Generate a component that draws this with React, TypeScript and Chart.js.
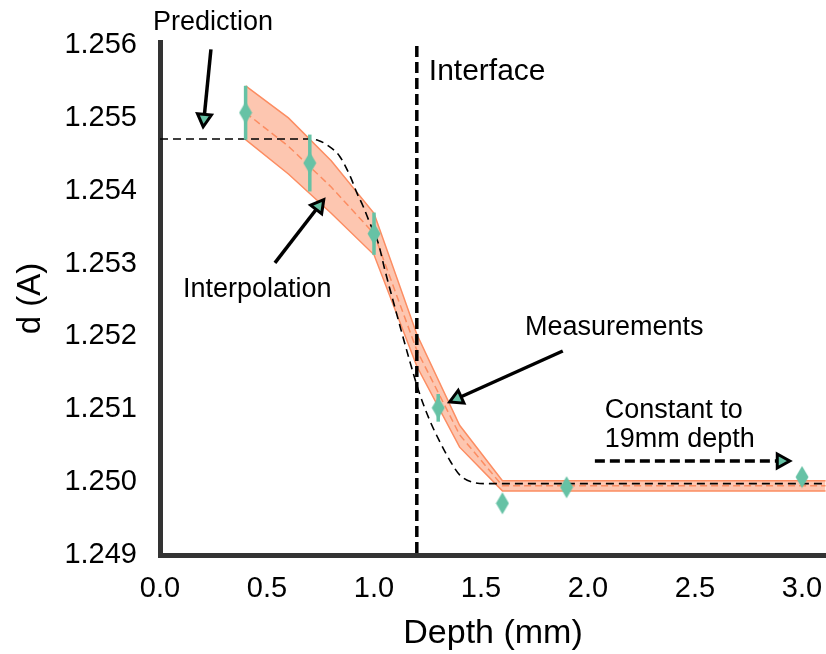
import React, { useEffect, useRef } from 'react';
import { Chart, registerables } from 'chart.js';

Chart.register(...registerables);

const FONT = '"Liberation Sans", Arial, Helvetica, sans-serif';
const TEAL = '#66c2a5';
const ORANGE = '#fc8d62';
const ORANGE_FILL = 'rgba(252,141,98,0.5)';
const SPINE = '#333333';

// Axis ticks
const xTicks = [0, 0.5, 1.0, 1.5, 2.0, 2.5, 3.0];
const yTicks = [1.249, 1.25, 1.251, 1.252, 1.253, 1.254, 1.255, 1.256];

// Measurements (diamonds with error bars)
const measX = [0.4, 0.7, 1.0, 1.3, 1.6, 1.9, 3.0];
const measY = [1.25507, 1.25438, 1.25341, 1.25102, 1.24971, 1.24993, 1.25007];
const measErr = [0.00037, 0.00039, 0.00029, 0.00019, 0.00004, 0.00004, 0.00004];

// Interpolation band
const bandX = [0.4, 0.6, 0.8, 1.0, 1.2, 1.4, 1.6, 3.11];
const bandMid = [1.25507, 1.25461, 1.25405, 1.25341, 1.25181, 1.25065, 1.24995, 1.24995];
const bandUpper = [1.25544, 1.255, 1.25441, 1.25369, 1.25203, 1.25078, 1.25002, 1.25002];
const bandLower = [1.2547, 1.25423, 1.25369, 1.25312, 1.25159, 1.25048, 1.24988, 1.24988];

// Prediction curve
const predX = [0, 0.7, 0.74, 0.78, 0.84, 0.89, 0.92, 0.95, 0.98, 1.02, 1.05, 1.09, 1.13, 1.17, 1.21, 1.26, 1.31, 1.36, 1.4, 1.46, 1.53, 3.11];
const predY = [1.25471, 1.25471, 1.25469, 1.25463, 1.25447, 1.25419, 1.25397, 1.25378, 1.25356, 1.25328, 1.25292, 1.25248, 1.25205, 1.25163, 1.25124, 1.25085, 1.25054, 1.25027, 1.2501, 1.25, 1.24998, 1.24998];

const interfaceX = 1.2;

// Annotations (data coordinates)
const textLabels = [
  { lines: ['Prediction'], x: -0.033, y: 1.25621, size: 27 },
  { lines: ['Interface'], x: 1.256, y: 1.25552, size: 30 },
  { lines: ['Interpolation'], x: 0.107, y: 1.25254, size: 27 },
  { lines: ['Measurements'], x: 1.705, y: 1.25202, size: 27 },
  { lines: ['Constant to', '19mm depth'], x: 2.078, y: 1.25088, size: 27 },
];
const arrows = [
  { x0: 0.238, y0: 1.25594, x1: 0.201, y1: 1.25485, dashed: false },
  { x0: 0.537, y0: 1.25301, x1: 0.771, y1: 1.2539, dashed: false },
  { x0: 1.882, y0: 1.2518, x1: 1.345, y1: 1.25109, dashed: false },
  { x0: 2.032, y0: 1.25029, x1: 2.952, y1: 1.25029, dashed: true },
];

function makeDiamond(): HTMLCanvasElement {
  const c = document.createElement('canvas');
  c.width = 14;
  c.height = 23;
  const g = c.getContext('2d')!;
  g.fillStyle = TEAL;
  g.beginPath();
  g.moveTo(7, 0.5);
  g.lineTo(13.5, 11.5);
  g.lineTo(7, 22.5);
  g.lineTo(0.5, 11.5);
  g.closePath();
  g.fill();
  return c;
}

const MEAS_INDEX = 0;

const overlayPlugin = {
  id: 'overlay',
  beforeDatasetDraw(chart: any, args: any) {
    if (args.index !== MEAS_INDEX) return;
    const { ctx, scales } = chart;
    const xs = scales.x;
    const ys = scales.y;
    ctx.save();
    ctx.strokeStyle = TEAL;
    ctx.lineWidth = 3.5;
    measX.forEach((mx, i) => {
      const px = xs.getPixelForValue(mx);
      ctx.beginPath();
      ctx.moveTo(px, ys.getPixelForValue(measY[i] + measErr[i]));
      ctx.lineTo(px, ys.getPixelForValue(measY[i] - measErr[i]));
      ctx.stroke();
    });
    ctx.restore();
  },
  afterDatasetsDraw(chart: any) {
    const { ctx, scales, chartArea } = chart;
    const xs = scales.x;
    const ys = scales.y;
    ctx.save();
    // Interface line
    const ix = xs.getPixelForValue(interfaceX);
    ctx.strokeStyle = '#000';
    ctx.lineWidth = 3.5;
    ctx.setLineDash([11, 5]);
    ctx.beginPath();
    ctx.moveTo(ix, chartArea.top + 4);
    ctx.lineTo(ix, chartArea.bottom);
    ctx.stroke();

    // Arrows
    arrows.forEach((a) => {
      const x0 = xs.getPixelForValue(a.x0);
      const y0 = ys.getPixelForValue(a.y0);
      const x1 = xs.getPixelForValue(a.x1);
      const y1 = ys.getPixelForValue(a.y1);
      const dx = x1 - x0;
      const dy = y1 - y0;
      const len = Math.hypot(dx, dy);
      const ux = dx / len;
      const uy = dy / len;
      const tipX = x1 - ux * 2;
      const tipY = y1 - uy * 2;
      const headLen = 12.5;
      const halfW = 7;
      const bx = tipX - ux * headLen;
      const by = tipY - uy * headLen;
      ctx.strokeStyle = '#000';
      ctx.lineWidth = 3.5;
      ctx.lineCap = 'butt';
      ctx.setLineDash(a.dashed ? [10, 5] : []);
      ctx.beginPath();
      ctx.moveTo(x0, y0);
      ctx.lineTo(bx, by);
      ctx.stroke();
      ctx.setLineDash([]);
      ctx.beginPath();
      ctx.moveTo(tipX, tipY);
      ctx.lineTo(bx - uy * halfW, by + ux * halfW);
      ctx.lineTo(bx + uy * halfW, by - ux * halfW);
      ctx.closePath();
      ctx.fillStyle = TEAL;
      ctx.fill();
      ctx.lineWidth = 3;
      ctx.lineJoin = 'miter';
      ctx.stroke();
    });

    // Texts
    ctx.fillStyle = '#000';
    ctx.textAlign = 'left';
    ctx.textBaseline = 'alphabetic';
    textLabels.forEach((t) => {
      ctx.font = `${t.size}px ${FONT}`;
      const px = xs.getPixelForValue(t.x);
      const py = ys.getPixelForValue(t.y);
      t.lines.forEach((line, i) => {
        ctx.fillText(line, px, py + i * 29);
      });
    });
    ctx.restore();
  },
};

export default function App() {
  const canvasRef = useRef<HTMLCanvasElement | null>(null);

  useEffect(() => {
    const canvas = canvasRef.current;
    if (!canvas) return;
    const diamond = makeDiamond();
    const toPts = (xsArr: number[], ysArr: number[]) => xsArr.map((x, i) => ({ x, y: ysArr[i] }));

    const chart = new Chart(canvas, {
      type: 'scatter',
      data: {
        datasets: [
          {
            label: 'Measurements',
            data: toPts(measX, measY),
            pointStyle: diamond as any,
            pointRadius: 7,
            pointHoverRadius: 7,
            showLine: false,
            order: 0,
          },
          {
            label: 'Prediction',
            data: toPts(predX, predY),
            showLine: true,
            borderColor: '#000',
            borderWidth: 1.6,
            borderDash: [8, 5],
            pointRadius: 0,
            cubicInterpolationMode: 'monotone',
            fill: false,
            order: 1,
          },
          {
            label: 'Interpolation',
            data: toPts(bandX, bandMid),
            showLine: true,
            borderColor: ORANGE,
            borderWidth: 1.5,
            borderDash: [7, 4],
            pointRadius: 0,
            fill: false,
            order: 2,
          },
          {
            label: 'Upper',
            data: toPts(bandX, bandUpper),
            showLine: true,
            borderColor: ORANGE,
            borderWidth: 1.5,
            backgroundColor: ORANGE_FILL,
            pointRadius: 0,
            fill: '+1',
            order: 4,
          },
          {
            label: 'Lower',
            data: toPts(bandX, bandLower),
            showLine: true,
            borderColor: ORANGE,
            borderWidth: 1.5,
            pointRadius: 0,
            fill: false,
            order: 3,
          },
        ] as any,
      },
      options: {
        animation: false,
        responsive: false,
        devicePixelRatio: 1,
        layout: { autoPadding: false, padding: { top: 42, left: 0, right: 0, bottom: 0 } },
        plugins: {
          legend: { display: false },
          tooltip: { enabled: false },
        },
        scales: {
          x: {
            type: 'linear',
            min: 0,
            max: 3.112,
            afterBuildTicks: (s: any) => {
              s.ticks = xTicks.map((v) => ({ value: v }));
            },
            afterFit: (s: any) => {
              s.height = 99;
              s.paddingLeft = 0;
              s.paddingRight = 0;
            },
            grid: { display: false, drawTicks: false },
            border: { display: true, color: SPINE, width: 5 },
            ticks: {
              color: '#000',
              font: { family: FONT, size: 29 },
              padding: 17,
              maxRotation: 0,
              autoSkip: false,
              callback: (v: any) => Number(v).toFixed(1),
            },
            title: {
              display: true,
              text: 'Depth (mm)',
              color: '#000',
              font: { family: FONT, size: 34 },
              padding: { top: 0, bottom: 0 },
            },
          },
          y: {
            type: 'linear',
            min: 1.249,
            max: 1.256041,
            afterBuildTicks: (s: any) => {
              s.ticks = yTicks.map((v) => ({ value: v }));
            },
            afterFit: (s: any) => {
              s.width = 160;
              s.paddingTop = 0;
              s.paddingBottom = 0;
            },
            grid: { display: false, drawTicks: false },
            border: { display: true, color: SPINE, width: 5 },
            ticks: {
              color: '#000',
              font: { family: FONT, size: 29 },
              padding: 23,
              autoSkip: false,
              callback: (v: any) => Number(v).toFixed(3),
            },
            title: {
              display: true,
              text: 'd (A)',
              color: '#000',
              font: { family: FONT, size: 33 },
              padding: { top: 11, bottom: 0 },
            },
          },
        },
      } as any,
      plugins: [overlayPlugin],
    });

    return () => {
      chart.destroy();
    };
  }, []);

  return (
    <div style={{ position: 'absolute', left: 0, top: 0, width: 826, height: 654, background: '#fff' }}>
      <canvas ref={canvasRef} width={826} height={654} style={{ display: 'block', width: 826, height: 654 }} />
    </div>
  );
}
